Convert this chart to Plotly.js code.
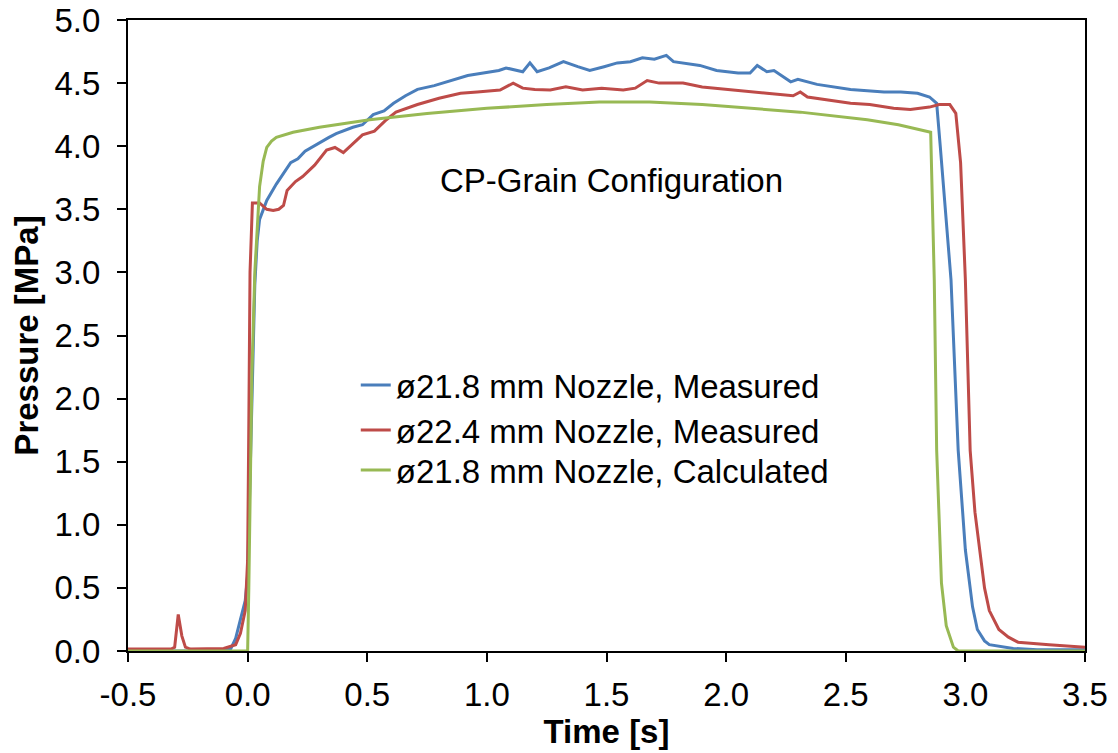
<!DOCTYPE html>
<html>
<head>
<meta charset="utf-8">
<script src="https://cdn.plot.ly/plotly-3.0.1.min.js"></script>
<style>html,body{margin:0;padding:0;background:#fff;}#chart{width:1118px;height:753px;}</style>
</head>
<body>
<div id="chart"></div>
<script>
// ø21.8 mm nozzle, measured
const blueX = [-0.5,-0.3,-0.1,-0.07,-0.05,-0.03,-0.01,0.0,0.01,0.02,0.03,0.04,0.05,0.08,0.12,0.18,0.21,0.24,0.30,0.34,0.37,0.44,0.48,0.525,0.57,0.61,0.66,0.71,0.78,0.845,0.92,0.985,1.05,1.08,1.15,1.18,1.21,1.26,1.32,1.38,1.43,1.49,1.545,1.60,1.65,1.70,1.75,1.78,1.89,1.96,2.05,2.10,2.13,2.17,2.20,2.27,2.30,2.38,2.45,2.52,2.59,2.66,2.73,2.80,2.85,2.88,2.895,2.92,2.94,2.97,3.0,3.03,3.05,3.08,3.10,3.2,3.3,3.5];
const blueY = [0.0,0.0,0.0,0.02,0.10,0.25,0.40,0.60,1.30,2.20,2.90,3.25,3.42,3.57,3.70,3.87,3.90,3.96,4.03,4.07,4.10,4.15,4.17,4.25,4.28,4.34,4.40,4.45,4.48,4.52,4.56,4.58,4.60,4.62,4.59,4.66,4.59,4.62,4.67,4.63,4.60,4.63,4.66,4.67,4.70,4.69,4.72,4.67,4.64,4.60,4.58,4.58,4.64,4.59,4.60,4.51,4.53,4.49,4.47,4.45,4.44,4.43,4.43,4.42,4.39,4.34,4.00,3.40,2.94,1.59,0.80,0.35,0.17,0.08,0.05,0.02,0.01,0.01];
// ø22.4 mm nozzle, measured
const redX = [-0.5,-0.32,-0.305,-0.29,-0.275,-0.26,-0.24,-0.1,-0.05,-0.03,-0.01,0.0,0.005,0.01,0.02,0.05,0.08,0.107,0.13,0.15,0.165,0.2,0.23,0.28,0.33,0.365,0.40,0.44,0.48,0.53,0.58,0.62,0.71,0.80,0.89,0.96,1.055,1.11,1.15,1.2,1.265,1.33,1.40,1.48,1.57,1.62,1.67,1.72,1.82,1.9,1.96,2.05,2.17,2.28,2.31,2.34,2.42,2.52,2.6,2.7,2.77,2.85,2.89,2.935,2.96,2.98,3.0,3.02,3.04,3.06,3.08,3.10,3.14,3.18,3.22,3.35,3.5];
const redY = [0.015,0.015,0.03,0.29,0.12,0.03,0.015,0.02,0.05,0.14,0.32,0.72,1.80,3.00,3.55,3.55,3.50,3.49,3.50,3.53,3.65,3.72,3.76,3.85,3.97,3.99,3.95,4.02,4.09,4.12,4.21,4.27,4.33,4.38,4.42,4.43,4.445,4.50,4.46,4.45,4.445,4.47,4.445,4.46,4.445,4.46,4.52,4.50,4.50,4.47,4.46,4.44,4.42,4.40,4.43,4.39,4.37,4.34,4.33,4.30,4.29,4.31,4.33,4.33,4.26,3.87,2.94,1.59,1.10,0.80,0.50,0.32,0.17,0.11,0.07,0.05,0.03];
// ø21.8 mm nozzle, calculated
const greenX = [-0.5,0.0,0.005,0.012,0.018,0.03,0.043,0.05,0.065,0.08,0.10,0.12,0.19,0.30,0.51,0.75,1.0,1.25,1.47,1.68,1.9,2.1,2.31,2.59,2.72,2.855,2.86,2.87,2.88,2.90,2.92,2.95,2.97,3.5];
const greenY = [0,0,0.5,1.4,2.2,3.0,3.42,3.68,3.88,3.99,4.04,4.07,4.11,4.15,4.21,4.26,4.30,4.33,4.35,4.35,4.33,4.30,4.27,4.21,4.17,4.11,3.73,2.94,1.59,0.54,0.20,0.03,0,0];

const seriesNames = ["ø21.8 mm Nozzle, Measured","ø22.4 mm Nozzle, Measured","ø21.8 mm Nozzle, Calculated"];
const xTickVals = [-0.5,0,0.5,1,1.5,2,2.5,3,3.5];
const yTickVals = [0,0.5,1,1.5,2,2.5,3,3.5,4,4.5,5];
const annoText = "CP-Grain Configuration";

const FONT = "Liberation Sans, Arial, sans-serif";
const FS = 33;
const traces = [
  {x: blueX, y: blueY, name: seriesNames[0], mode: "lines", line: {color: "#4A7EBB", width: 3}, legend: "legend"},
  {x: redX, y: redY, name: seriesNames[1], mode: "lines", line: {color: "#BE4B48", width: 3}, legend: "legend2"},
  {x: greenX, y: greenY, name: seriesNames[2], mode: "lines", line: {color: "#98B954", width: 3}, legend: "legend3"}
];
function leg(y) {
  return {x: 0.238, y: y, xanchor: "left", yanchor: "middle", bgcolor: "rgba(0,0,0,0)", borderwidth: 0,
          font: {family: FONT, size: FS, color: "#000"}, itemwidth: 30};
}
const layout = {
  width: 1118, height: 753,
  margin: {l: 128, r: 33, t: 20, b: 102},
  paper_bgcolor: "#fff", plot_bgcolor: "#fff",
  font: {family: FONT, color: "#000", size: FS},
  showlegend: true,
  legend: leg(0.4216), legend2: leg(0.3502), legend3: leg(0.2868),
  xaxis: {range: [-0.5, 3.5], tickvals: xTickVals, ticktext: xTickVals.map(v => v.toFixed(1)),
          showgrid: false, zeroline: false, showline: true, linecolor: "#000", linewidth: 2, mirror: true,
          ticks: "outside", ticklen: 9, tickwidth: 2, tickcolor: "#000", ticklabelstandoff: 4,
          tickfont: {family: FONT, size: FS, color: "#000"},
          title: {text: "<b>Time [s]</b>", font: {family: FONT, size: FS, color: "#000"}, standoff: 4}},
  yaxis: {range: [0, 5], tickvals: yTickVals, ticktext: yTickVals.map(v => v.toFixed(1)),
          showgrid: false, zeroline: false, showline: true, linecolor: "#000", linewidth: 2, mirror: true,
          ticks: "outside", ticklen: 9, tickwidth: 2, tickcolor: "#000", ticklabelstandoff: 10,
          tickfont: {family: FONT, size: FS, color: "#000"},
          title: {text: "<b>Pressure [MPa]</b>", font: {family: FONT, size: FS, color: "#000"}, standoff: 6}},
  annotations: [{x: 1.52, y: 3.73, xref: "x", yref: "y", text: annoText, showarrow: false,
                 font: {family: FONT, size: FS, color: "#000"}}]
};
Plotly.newPlot("chart", traces, layout, {displayModeBar: false, staticPlot: true});
</script>
</body>
</html>
